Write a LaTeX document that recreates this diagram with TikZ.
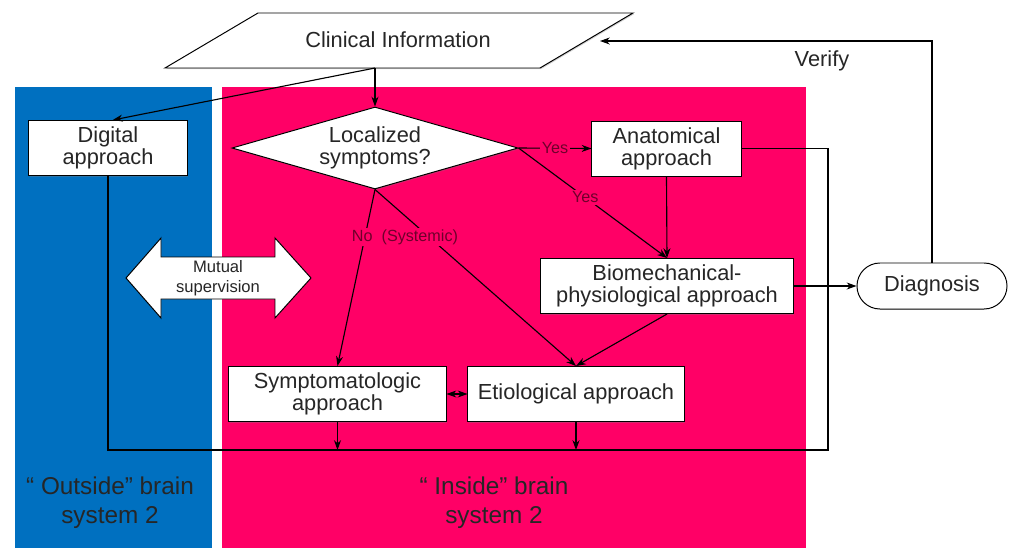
\documentclass[tikz,border=0pt]{standalone}
\usepackage{fontspec}
\setmainfont{Liberation Sans}
\definecolor{bsblue}{HTML}{0070C0}
\definecolor{bspink}{HTML}{FF0066}
\definecolor{bslabel}{HTML}{6E002B}
\definecolor{bstext}{HTML}{262626}
\usetikzlibrary{
  shapes.geometric, arrows.meta, positioning,
  shadows, calc
}

\begin{document}
\begin{tikzpicture}[
  x=0.025cm, y=-0.025cm,
  shade/.style={drop shadow={opacity=0.35,
    shadow xshift=0.8pt, shadow yshift=-0.8pt}},
  approach/.style={rectangle, draw=black, fill=white,
    line width=0.7pt, shade,
    minimum height=1.375cm, inner sep=2pt,
    align=center, text=bstext,
    font=\fontsize{15.5}{15.5}\selectfont},
  decision/.style={diamond, draw=black, fill=white,
    line width=0.7pt, shade, aspect=3.5, inner sep=0pt,
    minimum width=7.15cm, minimum height=2.05cm,
    align=center, text=bstext,
    font=\fontsize{15.5}{15.5}\selectfont},
  terminal/.style={rectangle, rounded corners=0.575cm,
    draw=black, fill=white, line width=0.7pt,
    minimum width=3.75cm, minimum height=1.15cm,
    text=bstext, font=\fontsize{15.5}{15.5}\selectfont},
  arr/.style={-{Stealth[length=7pt, width=5pt]}, line width=0.8pt},
  biarr/.style={{Stealth[length=7pt, width=5pt]}-{Stealth[length=7pt, width=5pt]},
    line width=0.8pt},
  bus/.style={line width=0.8pt},
  yes/.style={fill=bspink, inner sep=1pt, text=bslabel,
    font=\fontsize{11.5}{13}\selectfont},
  sysname/.style={align=center, text=black!85,
    font=\fontsize{17.3}{20.5}\selectfont}
]
  \useasboundingbox (0,0) rectangle (1009,548);

  % the two brain systems
  \fill[bsblue] (15,87) rectangle (212,548);
  \fill[bspink] (222,87) rectangle (806,548);
  \node[sysname] (outside) at (110,503)
    {“ Outside” brain\\system 2};
  \node[sysname] (inside) at (494,503)
    {“ Inside” brain\\system 2};

  % mutual supervision arrow
  \draw[fill=white, line width=0.7pt]
    (126,278) -- (161,238) -- (161,257) -- (275,257) -- (275,238)
    -- (311,278) -- (275,318) -- (275,299) -- (161,299) -- (161,318)
    -- cycle;
  \node[align=center, text=bstext, inner sep=0pt,
    font=\fontsize{11.8}{14}\selectfont] (mutual) at (218,278)
    {Mutual\\supervision};

  % clinical information (parallelogram)
  \draw[fill=white, line width=0.7pt, shade]
    (258,13) -- (633,13) -- (540,68) -- (165,68) -- cycle;
  \node[text=bstext, font=\fontsize{15.5}{15.5}\selectfont] (clin)
    at (398,40) {Clinical Information};

  % flow
  \node[approach, minimum width=3.95cm] (digital) at (108,148)
    {Digital\\approach};
  \node[decision] (dec) at (375,148) {Localized\\symptoms?};
  \node[approach, minimum width=3.725cm] (anat) at (666.5,148.5)
    {Anatomical\\approach};
  \node[approach, minimum width=6.3cm] (biomech) at (667,286)
    {Biomechanical-\\physiological approach};
  \node[approach, minimum width=5.425cm] (sympt) at (337.5,394)
    {Symptomatologic\\approach};
  \node[approach, minimum width=5.4cm] (etio) at (576,394)
    {Etiological approach};
  \node[terminal] (diag) at (932,286) {Diagnosis};
  \node[text=bstext, font=\fontsize{15.5}{15.5}\selectfont] (verify)
    at (822,61) {Verify};

  \coordinate (split) at (375,68);
  \coordinate (back) at (600,41);
  \coordinate (busR) at (828,450);

  \draw[arr] (split) -- (dec.north);
  \draw[arr] (split) -- ([xshift=0.12cm]digital.north);
  \draw[arr] (dec.east) -- node[yes]{Yes} (anat.west);
  \draw[arr] (dec.east) -- node[yes, pos=0.45]{Yes} (biomech.north);
  \draw[arr] (anat.south) -- (biomech.north);
  \draw[arr] (dec.south) -- (sympt.north);
  \draw[arr] (dec.south) -- (etio.north);
  \node[yes] (nolbl) at (405,237) {No\ \ (Systemic)};
  \draw[arr] (biomech.south) -- (etio.north);
  \draw[biarr] (sympt.east) -- (etio.west);

  \draw[bus] (digital.south) |- (busR) |- (anat.east);
  \draw[arr] (sympt.south) -- (sympt.south |- busR);
  \draw[arr] (etio.south) -- (etio.south |- busR);

  \draw[arr] (biomech.east) -- (diag.west);
  \draw[arr] (diag.north) |- (back);
\end{tikzpicture}
\end{document}
